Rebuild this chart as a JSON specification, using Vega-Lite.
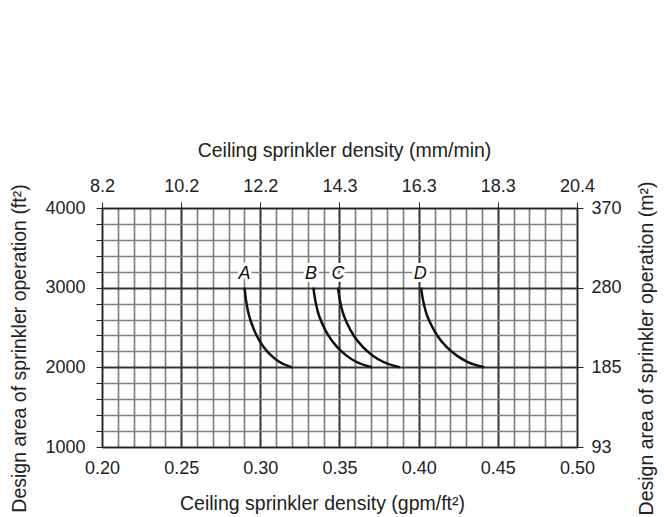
{
  "$schema": "https://vega.github.io/schema/vega-lite/v6.json",
  "autosize": "none",
  "width": 475,
  "height": 239,
  "padding": {"left": 102, "top": 208, "right": 87, "bottom": 70},
  "background": "white",
  "config": {
    "font": "Liberation Sans",
    "view": {"stroke": null},
    "axis": {"labelFont": "Liberation Sans", "titleFont": "Liberation Sans", "labelFontSize": 18, "titleFontSize": 19.5, "titleFontWeight": "normal", "labelColor": "#222", "titleColor": "#222", "domainColor": "#222", "tickColor": "#222", "tickSize": 6}
  },
  "datasets": {
    "curves": [
      {"curve": "A", "density": 0.290, "area": 3000}, {"curve": "A", "density": 0.2909, "area": 2850}, {"curve": "A", "density": 0.29225, "area": 2700}, {"curve": "A", "density": 0.2945, "area": 2550}, {"curve": "A", "density": 0.29765, "area": 2400}, {"curve": "A", "density": 0.3023, "area": 2250}, {"curve": "A", "density": 0.3068, "area": 2150}, {"curve": "A", "density": 0.3119, "area": 2070}, {"curve": "A", "density": 0.320, "area": 2000},
      {"curve": "B", "density": 0.3335, "area": 3000}, {"curve": "B", "density": 0.33461, "area": 2850}, {"curve": "B", "density": 0.33628, "area": 2700}, {"curve": "B", "density": 0.33905, "area": 2550}, {"curve": "B", "density": 0.34294, "area": 2400}, {"curve": "B", "density": 0.34867, "area": 2250}, {"curve": "B", "density": 0.35422, "area": 2150}, {"curve": "B", "density": 0.36051, "area": 2070}, {"curve": "B", "density": 0.3705, "area": 2000},
      {"curve": "C", "density": 0.349, "area": 3000}, {"curve": "C", "density": 0.35017, "area": 2850}, {"curve": "C", "density": 0.35193, "area": 2700}, {"curve": "C", "density": 0.35485, "area": 2550}, {"curve": "C", "density": 0.35895, "area": 2400}, {"curve": "C", "density": 0.36499, "area": 2250}, {"curve": "C", "density": 0.37084, "area": 2150}, {"curve": "C", "density": 0.37747, "area": 2070}, {"curve": "C", "density": 0.388, "area": 2000},
      {"curve": "D", "density": 0.4015, "area": 3000}, {"curve": "D", "density": 0.4027, "area": 2850}, {"curve": "D", "density": 0.4045, "area": 2700}, {"curve": "D", "density": 0.4075, "area": 2550}, {"curve": "D", "density": 0.4117, "area": 2400}, {"curve": "D", "density": 0.4179, "area": 2250}, {"curve": "D", "density": 0.4239, "area": 2150}, {"curve": "D", "density": 0.4307, "area": 2070}, {"curve": "D", "density": 0.4415, "area": 2000}
    ],
    "labels": [
      {"label": "A", "density": 0.290, "area": 3170},
      {"label": "B", "density": 0.332, "area": 3170},
      {"label": "C", "density": 0.349, "area": 3170},
      {"label": "D", "density": 0.401, "area": 3170}
    ]
  },
  "layer": [
    {
      "data": {"name": "curves"},
      "mark": {"type": "line", "color": "#111", "strokeWidth": 2.5, "interpolate": "monotone"},
      "encoding": {
        "x": {"field": "density", "type": "quantitative", "scale": {"domain": [0.2, 0.5], "nice": false, "zero": false},
          "axis": {"orient": "bottom", "title": "Ceiling sprinkler density (gpm/ft²)", "values": [0.2,0.21,0.22,0.23,0.24,0.25,0.26,0.27,0.28,0.29,0.3,0.31,0.32,0.33,0.34,0.35,0.36,0.37,0.38,0.39,0.4,0.41,0.42,0.43,0.44,0.45,0.46,0.47,0.48,0.49,0.5],
            "labelExpr": "abs(datum.value*20 - round(datum.value*20)) < 0.001 ? format(datum.value, '.2f') : ''",
            "ticks": false, "labelPadding": 12, "labelFlush": false, "labelOverlap": false,
            "titleX": 220, "titleY": 62, "titleAlign": "center", "titleBaseline": "alphabetic",
            "grid": true,
            "gridColor": {"condition": {"test": "abs(datum.value*20 - round(datum.value*20)) < 0.001", "value": "#333"}, "value": "#808080"},
            "gridWidth": {"condition": {"test": "abs(datum.value*20 - round(datum.value*20)) < 0.001", "value": 2}, "value": 1.7}}},
        "y": {"field": "area", "type": "quantitative", "scale": {"domain": [1000, 4000], "nice": false, "zero": false},
          "axis": {"orient": "left", "title": "Design area of sprinkler operation (ft²)", "values": [1000,1200,1400,1600,1800,2000,2200,2400,2600,2800,3000,3200,3400,3600,3800,4000],
            "labelExpr": "datum.value % 1000 === 0 ? datum.label : ''", "format": "d",
            "tickSize": 6, "labelPadding": 11, "labelFlush": false, "labelOverlap": false,
            "titleX": -83, "titleY": 140, "titleAngle": -90, "titleAlign": "center", "titleBaseline": "middle",
            "grid": true,
            "gridColor": {"condition": {"test": "datum.value % 1000 === 0", "value": "#333"}, "value": "#808080"},
            "gridWidth": {"condition": {"test": "datum.value % 1000 === 0", "value": 2}, "value": 1.7}}},
        "detail": {"field": "curve"}
      }
    },
    {
      "data": {"name": "labels"},
      "mark": {"type": "text", "font": "Liberation Sans", "fontSize": 18, "fontStyle": "italic", "color": "white", "stroke": "white", "strokeWidth": 6, "baseline": "middle"},
      "encoding": {
        "x": {"field": "density", "type": "quantitative", "axis": null},
        "y": {"field": "area", "type": "quantitative", "axis": null},
        "text": {"field": "label"}
      }
    },
    {
      "data": {"name": "labels"},
      "mark": {"type": "text", "font": "Liberation Sans", "fontSize": 18, "fontStyle": "italic", "color": "#111", "baseline": "middle"},
      "encoding": {
        "x": {"field": "density", "type": "quantitative",
          "axis": {"orient": "top", "title": "Ceiling sprinkler density (mm/min)", "values": [0.2,0.25,0.3,0.35,0.4,0.45,0.5],
            "labelExpr": "datum.value < 0.22 ? '8.2' : datum.value < 0.27 ? '10.2' : datum.value < 0.32 ? '12.2' : datum.value < 0.37 ? '14.3' : datum.value < 0.42 ? '16.3' : datum.value < 0.47 ? '18.3' : '20.4'",
            "grid": false, "tickSize": 6, "labelPadding": 7, "labelFlush": false, "labelOverlap": false,
            "titleX": 242, "titleY": -52, "titleAlign": "center", "titleBaseline": "alphabetic"}},
        "y": {"field": "area", "type": "quantitative",
          "axis": {"orient": "right", "title": "Design area of sprinkler operation (m²)", "values": [1000, 2000, 3000, 4000],
            "labelExpr": "datum.value < 1500 ? '93' : datum.value < 2500 ? '185' : datum.value < 3500 ? '280' : '370'",
            "grid": false, "tickSize": 6, "labelPadding": 8, "labelFlush": false, "labelOverlap": false,
            "titleX": 69, "titleY": 140, "titleAngle": -90, "titleAlign": "center", "titleBaseline": "middle"}},
        "text": {"field": "label"}
      }
    }
  ],
  "resolve": {"axis": {"x": "independent", "y": "independent"}}
}
